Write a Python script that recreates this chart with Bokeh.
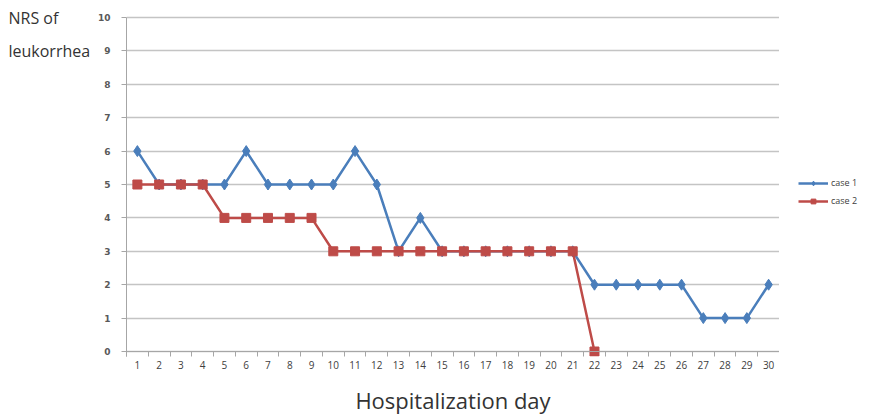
from bokeh.plotting import figure
from bokeh.layouts import row
from bokeh.models import Range1d, FixedTicker, Legend, LegendItem, Span
from bokeh.core.properties import value
from bokeh.embed import file_html
from bokeh.resources import INLINE

days = list(range(1, 31))
case1 = [6, 5, 5, 5, 5, 6, 5, 5, 5, 5, 6, 5, 3, 4, 3, 3, 3, 3, 3, 3, 3, 2, 2, 2, 2, 2, 1, 1, 1, 2]
case2_days = list(range(1, 23))
case2 = [5, 5, 5, 5, 4, 4, 4, 4, 4, 3, 3, 3, 3, 3, 3, 3, 3, 3, 3, 3, 3, 0]
y_ticks = list(range(0, 11))
y_title = ["NRS of", "leukorrhea"]
y_title_pos = [10, 9]
series_names = ["case 1", "case 2"]

BLUE = "#4a7ebb"
RED = "#be4b48"
GREY = "#a6a6a6"

PX = 33.4            # pixels per unit on y
TICK = 5             # length of x tick marks below the axis line
TOP = 17             # pixels above the 10 gridline
Y_LO = -TICK / PX
Y_HI = y_ticks[-1] + TOP / PX
FH = round((Y_HI - Y_LO) * PX)
LEFT_W = 94
AXIS_W = 31
FRAME_W = 653
LEG_W = 873 - LEFT_W - AXIS_W - FRAME_W

y_range = Range1d(Y_LO, Y_HI)

p = figure(frame_width=FRAME_W, frame_height=FH, output_backend="svg", toolbar_location=None,
           x_range=Range1d(0.5, 30.5), y_range=y_range,
           min_border_left=AXIS_W, min_border_right=0, min_border_top=0, min_border_bottom=0)
p.outline_line_color = None

p.xgrid.grid_line_color = None
p.ygrid.grid_line_color = "#c4c4c4"
p.ygrid.grid_line_width = 1.5
p.ygrid.ticker = FixedTicker(ticks=y_ticks)

p.yaxis.ticker = FixedTicker(ticks=y_ticks)
p.yaxis.bounds = (Y_LO, y_ticks[-1])
p.yaxis.axis_line_color = GREY
p.yaxis.major_tick_line_color = GREY
p.yaxis.major_tick_out = 5
p.yaxis.major_tick_in = 0
p.yaxis.minor_tick_line_color = None
p.yaxis.major_label_text_font = "DejaVu Sans"
p.yaxis.major_label_text_font_style = "bold"
p.yaxis.major_label_text_font_size = "9px"
p.yaxis.major_label_text_color = "#595959"
p.yaxis.major_label_standoff = 11

p.xaxis.ticker = FixedTicker(ticks=days, minor_ticks=[d - 0.5 for d in days] + [days[-1] + 0.5])
p.xaxis.axis_line_color = None
p.xaxis.major_tick_line_color = None
p.xaxis.major_tick_out = 0
p.xaxis.major_tick_in = 0
p.xaxis.minor_tick_line_color = GREY
p.xaxis.minor_tick_out = 0
p.xaxis.minor_tick_in = TICK
p.xaxis.major_label_text_font = "Open Sans"
p.xaxis.major_label_text_font_size = "10px"
p.xaxis.major_label_text_color = "#404040"
p.xaxis.major_label_standoff = 4
p.xaxis.axis_label = "Hospitalization day"
p.xaxis.axis_label_text_font = "Open Sans"
p.xaxis.axis_label_text_font_style = "normal"
p.xaxis.axis_label_text_font_size = "22px"
p.xaxis.axis_label_text_color = "#333333"
p.xaxis.axis_label_standoff = 13

p.add_layout(Span(location=0, dimension="width", line_color=GREY, line_width=1.2))

p.line(days, case1, line_color=BLUE, line_width=2.5)
p.scatter(days, case1, marker="diamond", size=11, fill_color=BLUE, line_color=BLUE)
p.line(case2_days, case2, line_color=RED, line_width=2.5)
p.scatter(case2_days, case2, marker="square", size=9, fill_color=RED, line_color=RED)

# left: the y title
left = figure(frame_width=LEFT_W - 8, frame_height=FH, output_backend="svg",
              toolbar_location=None, x_range=Range1d(0, 1), y_range=y_range,
              x_axis_type=None, y_axis_type=None,
              min_border_left=8, min_border_right=0, min_border_top=0, min_border_bottom=0)
left.outline_line_color = None
left.grid.visible = False
left.text(x=[0.0] * len(y_title), y=y_title_pos, text=y_title, text_font=value("Open Sans"),
          text_font_size=value("16px"), text_color="#333333",
          text_baseline="middle", text_align="left")

# right: the legend (its key renderers hold the series but lie outside this panel's view)
leg = figure(frame_width=LEG_W, frame_height=FH, output_backend="svg",
             toolbar_location=None, x_range=Range1d(-2, -1), y_range=y_range,
             x_axis_type=None, y_axis_type=None,
             min_border_left=0, min_border_right=0, min_border_top=0, min_border_bottom=0)
leg.outline_line_color = None
leg.grid.visible = False
k1 = [leg.line(days, case1, line_color=BLUE, line_width=2.5),
      leg.scatter(days, case1, marker="diamond", size=8, fill_color=BLUE, line_color=BLUE)]
k2 = [leg.line(case2_days, case2, line_color=RED, line_width=2.5),
      leg.scatter(case2_days, case2, marker="square", size=7, fill_color=RED, line_color=RED)]
legend = Legend(items=[LegendItem(label=series_names[0], renderers=k1),
                       LegendItem(label=series_names[1], renderers=k2)],
                location=(19, 149), border_line_color=None, background_fill_alpha=0,
                label_text_font_size="9px", label_text_font="Open Sans",
                label_text_color="#404040", glyph_width=30, glyph_height=12,
                spacing=5, padding=3, label_standoff=3, margin=0)
leg.add_layout(legend)

layout = row(left, p, leg, spacing=0)
open("out.html", "w").write(file_html(layout, INLINE))
